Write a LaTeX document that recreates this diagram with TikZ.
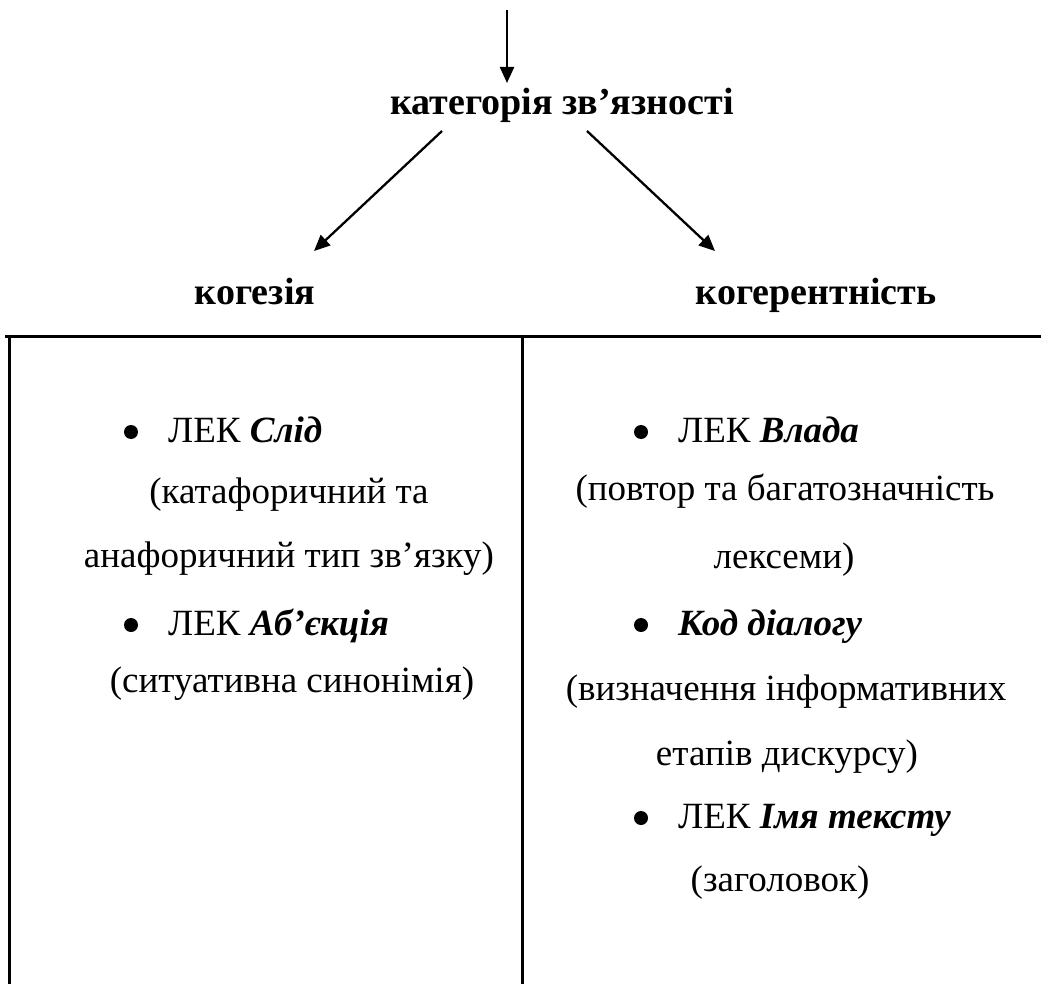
\documentclass[tikz,border=0pt]{standalone}
\usepackage{fontspec}
\setmainfont{Liberation Serif}
\usetikzlibrary{arrows.meta}
\begin{document}
\begin{tikzpicture}[x=1pt,y=-1pt,
  txt/.style={inner sep=0pt, anchor=base, font=\fontsize{37}{44}\selectfont},
  hdr/.style={inner sep=0pt, anchor=base, font=\fontsize{38}{44}\selectfont\bfseries},
  itm/.style={inner sep=0pt, anchor=base west, font=\fontsize{37}{44}\selectfont},
  blt/.style={circle, fill=black, inner sep=0pt, minimum size=14pt},
  arr/.style={line width=2.3pt, -{Triangle[length=16pt,width=14pt]}},
  rule/.style={line width=3pt}]
\useasboundingbox (0,0) rectangle (1041,984);

% title and arrows
\node[hdr] (t) at (562,115) {категорія зв’язності};
\coordinate (top) at (507,10);
\coordinate (tA) at (507,83);
\draw[arr] (top) -- (tA);
\coordinate (ls) at (442,131);
\coordinate (le) at (314,251);
\coordinate (rs) at (587,131);
\coordinate (re) at (715,251);
\draw[arr] (ls) -- (le);
\draw[arr] (rs) -- (re);

\node[hdr] (h1) at (255,305) {когезія};
\node[hdr] (h2) at (816,305) {когерентність};

% table rules
\coordinate (hl) at (5,336);
\coordinate (hr) at (1041,336);
\coordinate (v1t) at (9,336);
\coordinate (v1b) at (9,984);
\coordinate (v2t) at (522,336);
\coordinate (v2b) at (522,984);
\draw[rule] (hl) -- (hr);
\draw[rule] (v1t) -- (v1b);
\draw[rule] (v2t) -- (v2b);

% left column
\node[blt] (bl1) at (131,432) {};
\node[itm] (l1) at (168,442) {ЛЕК \textbf{\textit{Слід}}};
\node[txt] (l2) at (289,503) {(катафоричний та};
\node[txt] (l3) at (289,567) {анафоричний тип зв’язку)};
\node[blt] (bl2) at (131,625) {};
\node[itm] (l4) at (168,635) {ЛЕК \textbf{\textit{Аб’єкція}}};
\node[txt] (l5) at (292,692) {(ситуативна синонімія)};

% right column
\node[blt] (br1) at (641,432) {};
\node[itm] (r1) at (678,442) {ЛЕК \textbf{\textit{Влада}}};
\node[txt] (r2) at (785,500) {(повтор та багатозначність};
\node[txt] (r3) at (784,568) {лексеми)};
\node[blt] (br2) at (641,625) {};
\node[itm] (r4) at (678,635) {\textbf{\textit{Код діалогу}}};
\node[txt] (r5) at (786,700) {(визначення інформативних};
\node[txt] (r6) at (787,765) {етапів дискурсу)};
\node[blt] (br3) at (641,818) {};
\node[itm] (r7) at (678,828) {ЛЕК \textbf{\textit{Імя тексту}}};
\node[txt] (r8) at (780,891) {(заголовок)};
\end{tikzpicture}
\end{document}
